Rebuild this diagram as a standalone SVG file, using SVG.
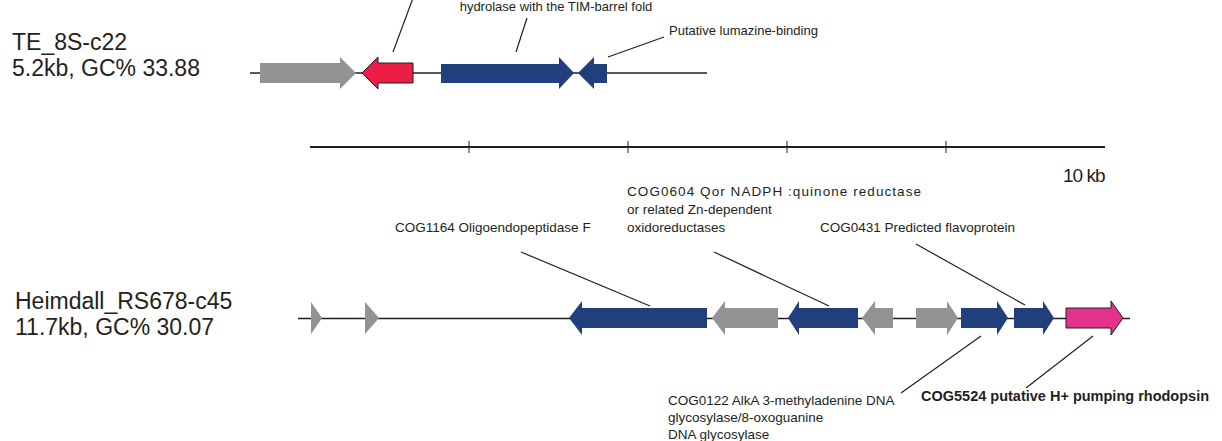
<svg xmlns="http://www.w3.org/2000/svg" width="1222" height="441" viewBox="0 0 1222 441">
<style>
text{font-family:"Liberation Sans",Arial,sans-serif;fill:#231f20}
.big{font-size:23px}
.lab{font-size:13.5px}
.labs{font-size:13px}
.bold{font-size:14.5px;font-weight:bold}
.grey{fill:#939393}
.blue{fill:#213f7d}
.red{fill:#ec1e45;stroke:#231f20;stroke-width:1}
.pink{fill:#e3328c;stroke:#231f20;stroke-width:1}
.backbone{stroke:#231f20;stroke-width:1.6;fill:none}
.lead{stroke:#231f20;stroke-width:1.2;fill:none}
</style>
<rect width="1222" height="441" fill="#ffffff"/>

<g id="label-te">
<text class="big" x="12" y="50">TE_8S-c22</text>
<text class="big" x="12" y="76">5.2kb, GC% 33.88</text>
</g>
<g id="label-heimdall">
<text class="big" x="15" y="309">Heimdall_RS678-c45</text>
<text class="big" x="15" y="335">11.7kb, GC% 30.07</text>
</g>

<g id="connectors">
<line class="backbone" x1="250" y1="73" x2="707" y2="73"/>
<line class="backbone" x1="298" y1="318.5" x2="1130" y2="318.5" stroke-width="2"/>
<line class="lead" x1="393" y1="52" x2="413" y2="-2"/>
<line class="lead" x1="516" y1="52" x2="527" y2="18"/>
<line class="lead" x1="608" y1="57" x2="664" y2="37"/>
<line class="lead" x1="521" y1="252" x2="650" y2="306"/>
<line class="lead" x1="714" y1="252" x2="829" y2="306"/>
<line class="lead" x1="916" y1="244" x2="1025" y2="305"/>
<line class="lead" x1="901" y1="393" x2="981" y2="336"/>
<line class="lead" x1="1026" y1="388" x2="1093" y2="336"/>
</g>

<g id="scalebar">
<line x1="310" y1="147" x2="1105" y2="147" stroke="#231f20" stroke-width="2"/>
<line x1="469" y1="141" x2="469" y2="153" stroke="#231f20" stroke-width="1"/>
<line x1="628" y1="141" x2="628" y2="153" stroke="#231f20" stroke-width="1"/>
<line x1="787" y1="141" x2="787" y2="153" stroke="#231f20" stroke-width="1"/>
<line x1="946" y1="141" x2="946" y2="153" stroke="#231f20" stroke-width="1"/>
<text x="1063" y="182" font-size="19" letter-spacing="-1">10 kb</text>
</g>

<g id="te-genes">
<polygon id="te-g1" class="grey" points="260,63 340,63 340,57 356,73 340,89 340,83 260,83"/>
<polygon id="te-g2" class="red" points="362,73 378,57 378,63 413,63 413,83 378,83 378,89"/>
<polygon id="te-g3" class="blue" points="441,64 559,64 559,57 574,73 559,89 559,83 441,83"/>
<polygon id="te-g4" class="blue" points="578,73 594,57 594,64 607,64 607,83 594,83 594,89"/>
</g>

<g id="te-labels">
<text class="labs" x="556" y="10.5" text-anchor="middle">hydrolase with the TIM-barrel fold</text>
<text class="labs" x="669" y="35">Putative lumazine-binding</text>
</g>

<g id="heimdall-genes">
<polygon id="h-g1" class="grey" points="311,302 322,318 311,334"/>
<polygon id="h-g2" class="grey" points="365,302 379,318 365,334"/>
<polygon id="h-g3" class="blue" points="569,318 582,301 582,308 707,308 707,328 582,328 582,335"/>
<polygon id="h-g4" class="grey" points="712,318 725,301 725,308 778,308 778,328 725,328 725,335"/>
<polygon id="h-g5" class="blue" points="788,318 799,301 799,308 858,308 858,328 799,328 799,335"/>
<polygon id="h-g6" class="grey" points="862,318 875,301 875,308 893,308 893,328 875,328 875,335"/>
<polygon id="h-g7" class="grey" points="916,308 947,308 947,301 958,318 947,335 947,328 916,328"/>
<polygon id="h-g8" class="blue" points="961,308 997,308 997,301 1008,318 997,335 997,328 961,328"/>
<polygon id="h-g9" class="blue" points="1014,308 1043,308 1043,301 1054,318 1043,335 1043,328 1014,328"/>
<polygon id="h-g10" class="pink" points="1066,308 1111,308 1111,301 1123,318 1111,335 1111,328 1066,328"/>
</g>

<g id="heimdall-labels">
<text class="lab" x="395" y="232">COG1164 Oligoendopeptidase F</text>
<text class="lab" x="627" y="196" textLength="294">COG0604 Qor NADPH :quinone reductase</text>
<text class="lab" x="627" y="214">or related Zn-dependent</text>
<text class="lab" x="627" y="232">oxidoreductases</text>
<text class="lab" x="820" y="232">COG0431 Predicted flavoprotein</text>
<text class="lab" x="668" y="405" font-size="13.8">COG0122 AlkA 3-methyladenine DNA</text>
<text class="lab" x="668" y="422">glycosylase/8-oxoguanine</text>
<text class="lab" x="668" y="439">DNA glycosylase</text>
<text class="bold" x="921" y="401">COG5524 putative H+ pumping rhodopsin</text>
</g>
</svg>
